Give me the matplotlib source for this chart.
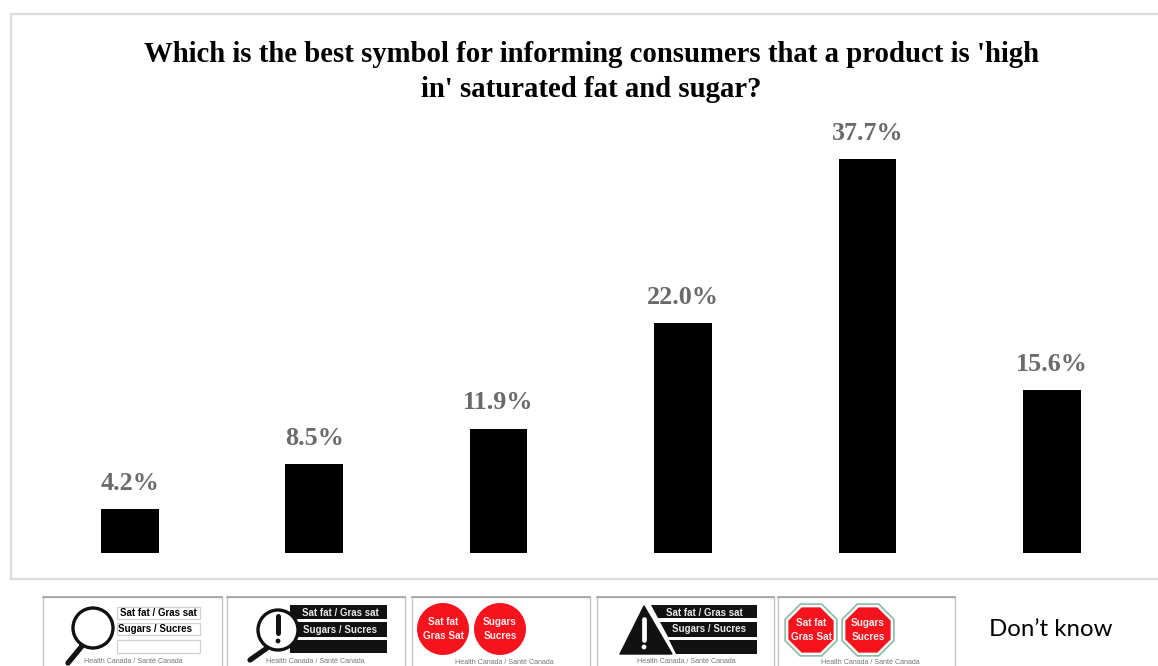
# File: symbol_preference_bars.py
import matplotlib
matplotlib.use('Agg')
import matplotlib.pyplot as plt
from matplotlib.patches import Circle, Polygon, Rectangle
import numpy as np

title = "Which is the best symbol for informing consumers that a product is 'high\nin' saturated fat and sugar?"
categories = ['Magnifier outline', 'Magnifier exclamation', 'Red circles',
              'Warning triangle', 'Stop signs', "Don't know"]
percent = [4.2, 8.5, 11.9, 22.0, 37.7, 15.6]

footer = 'Health Canada / Santé Canada'
row_one = 'Sat fat / Gras sat'
row_two = 'Sugars / Sucres'
red = '#f5141e'
W, H = 1158, 666


def add_box(ax, x0, x1, y0=596.5):
    """White icon card, cut off by the bottom of the figure."""
    ax.add_patch(Rectangle((x0, y0), x1 - x0, 80, fc='white', ec='#c4c4c4', lw=1.0))
    ax.plot([x0, x1], [y0, y0], color='#a0a0a0', lw=1.2)


def add_footer(ax, x, y=661.5):
    ax.text(x, y, footer, fontsize=5.1, color='#777777', ha='center', va='center',
            family='Liberation Sans')


def add_label(ax, x, y, text, color='black', size=7.0):
    ax.text(x, y, text, fontsize=size, color=color, ha='center', va='center',
            fontweight='bold', family='Liberation Sans', zorder=5)


def add_magnifier(ax, cx, cy, handle_end, lw=2.4):
    ax.plot([cx - 11, handle_end[0]], [cy + 18, handle_end[1]], color='#111111',
            lw=lw + 1.4, solid_capstyle='round')
    ax.add_patch(Circle((cx, cy), 20, fc='white', ec='#111111', lw=lw, zorder=3))


def add_octagon(ax, cx, cy, r, **kwargs):
    angles = np.deg2rad(22.5 + 45 * np.arange(8))
    ax.add_patch(Polygon(np.c_[cx + r * np.cos(angles), cy + r * np.sin(angles)], **kwargs))


def add_badges(ax, centers, cy, top, bottom, octagon=False):
    for cx, line1, line2 in zip(centers, top, bottom):
        if octagon:
            add_octagon(ax, cx, cy, 28, fc='white', ec='#8fb8a4', lw=1.2)
            add_octagon(ax, cx, cy, 24.5, fc=red, ec='none')
        else:
            ax.add_patch(Circle((cx, cy), 26, fc=red, ec='none'))
        add_label(ax, cx, cy - 7, line1, color='#ffe9e9', size=7.2)
        add_label(ax, cx, cy + 7, line2, color='#ffe9e9', size=7.2)


fig = plt.figure(figsize=(W / 100, H / 100), dpi=100)

# Overlay in pixel units for the frame and the icon strip
over = fig.add_axes([0, 0, 1, 1], zorder=0)
over.set_xlim(0, W)
over.set_ylim(H, 0)
over.axis('off')
over.add_patch(Rectangle((11, 13.5), W, 565.5, fc='white', ec='#dcdcdc', lw=1.6))

# Bars
ax = fig.add_axes([37.6 / W, (H - 553) / H, 1106.4 / W, 418 / H], zorder=1)
ax.patch.set_alpha(0)
x = np.arange(len(percent))
bars = ax.bar(x, percent, width=0.313, color='black')
ax.set_xlim(-0.5, 5.5)
ax.set_ylim(0, 40)
ax.axis('off')
for bar, value in zip(bars, percent):
    ax.annotate(f'{value:.1f}%', (bar.get_x() + bar.get_width() / 2, value),
                xytext=(0, 10.4), textcoords='offset points', ha='center', va='bottom',
                fontsize=18.8, fontweight='bold', color='#6a6a6a', family='Liberation Serif',
                annotation_clip=False)

fig.text(591 / W, 1 - 72 / H, title, ha='center', va='center', fontsize=20.7,
         fontweight='bold', color='black', family='Liberation Serif', linespacing=1.42)

# Icon 1: outlined magnifier
add_box(over, 43, 222)
for y0, y1 in [(607, 619), (623, 635), (640, 653)]:
    over.add_patch(Rectangle((117, y0), 83, y1 - y0, fc='white', ec='#d0d0d0', lw=0.9))
add_magnifier(over, 93, 628, (68, 663))
add_label(over, 158, 613, row_one)
add_label(over, 155, 629.5, row_two)
add_footer(over, 133)

# Icon 2: magnifier with exclamation mark over black rows
add_box(over, 227, 405)
for y0, y1 in [(605, 619), (622, 637), (640, 653)]:
    over.add_patch(Rectangle((290, y0), 97, y1 - y0, fc='#111111', ec='none'))
add_magnifier(over, 278, 630, (250, 660))
over.plot([278, 278], [616, 633], color='#111111', lw=3.6, solid_capstyle='round', zorder=4)
over.add_patch(Circle((278, 641), 2.4, fc='#111111', ec='none', zorder=4))
add_label(over, 340, 613, row_one, color='#e8e8e8')
add_label(over, 340, 630, row_two, color='#e8e8e8')
add_footer(over, 315)

# Icon 3: red circles
add_box(over, 412, 590)
add_badges(over, [443, 500], 629, ['Sat fat', 'Sugars'], ['Gras Sat', 'Sucres'])
add_footer(over, 504, 663)

# Icon 4: warning triangle with black rows
add_box(over, 597, 774)
for y0, y1 in [(605, 618), (622, 637), (640, 654)]:
    left0 = 651 + (y0 - 605) * 0.52
    left1 = 651 + (y1 - 605) * 0.52
    over.add_patch(Polygon([(left0, y0), (757, y0), (757, y1), (left1, y1)],
                           fc='#111111', ec='none'))
over.add_patch(Polygon([(644, 606), (672, 654), (620, 654)], fc='#111111', ec='#111111',
                       lw=1, joinstyle='round'))
over.plot([644, 644], [619, 640], color='white', lw=3.4, solid_capstyle='round')
over.add_patch(Circle((644, 647), 2.4, fc='white', ec='none'))
add_label(over, 704, 613, row_one, color='#e8e8e8')
add_label(over, 709, 629.5, row_two, color='#e8e8e8')
add_footer(over, 686)

# Icon 5: stop signs
add_box(over, 778, 955)
add_badges(over, [811, 868], 630, ['Sat fat', 'Sugars'], ['Gras Sat', 'Sucres'], octagon=True)
add_footer(over, 870, 663)

over.text(1050.5, 630, 'Don’t know', fontsize=17.3, color='black', ha='center', va='center',
          family='Lato')

fig.savefig('out.png', dpi=100)
